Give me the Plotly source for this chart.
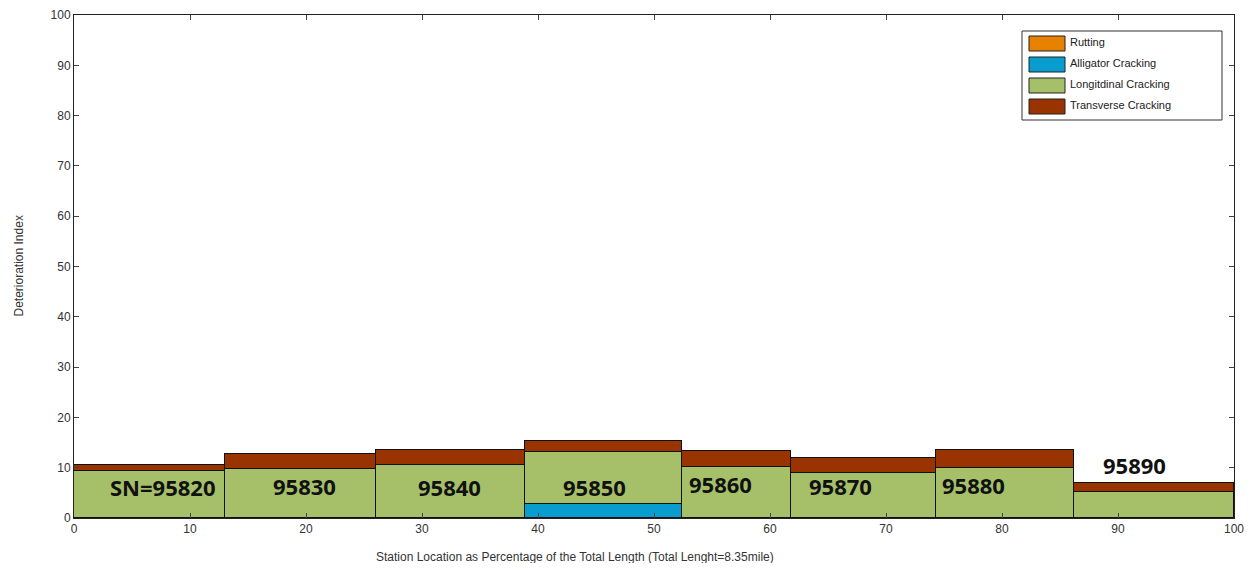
import plotly.graph_objects as go

# Station boundaries (percent of total length)
edges = [0, 13.0, 26.0, 38.9, 52.4, 61.8, 74.3, 86.2, 100]
stations = ["SN=95820", "95830", "95840", "95850", "95860", "95870", "95880", "95890"]
rutting = [0, 0, 0, 0, 0, 0, 0, 0]
alligator = [0, 0, 0, 2.7, 0, 0, 0, 0]
longitudinal = [9.3, 9.7, 10.6, 10.4, 10.2, 9.0, 9.9, 5.2]
transverse = [1.2, 3.1, 2.9, 2.2, 3.1, 3.0, 3.6, 1.7]
label_x = [7.6, 19.9, 32.4, 44.9, 55.7, 66.1, 77.5, 91.4]
label_y = [6.1, 6.4, 6.2, 6.2, 6.8, 6.4, 6.5, 10.5]

series_names = ["Rutting", "Alligator Cracking", "Longitdinal Cracking", "Transverse Cracking"]
series_colors = ["#E88000", "#089CCF", "#A6C06A", "#993300"]
series_values = [rutting, alligator, longitudinal, transverse]

# figure geometry (page has an 8px body margin)
W, H = 1238, 555
ML, MR, MT, MB = 66, 12, 7, 45
OFF = 8


def px(x):
    return (x - OFF - ML) / (W - ML - MR)


def py(y):
    return 1 - (y - OFF - MT) / (H - MT - MB)


mids = [(a + b) / 2 for a, b in zip(edges[:-1], edges[1:])]
widths = [b - a for a, b in zip(edges[:-1], edges[1:])]

fig = go.Figure()
for name, vals, col in zip(series_names, series_values, series_colors):
    fig.add_trace(go.Bar(
        x=mids, y=vals, width=widths, name=name, showlegend=False,
        marker=dict(color=col, line=dict(color="#111111", width=1)),
    ))

for s, lx, ly in zip(stations, label_x, label_y):
    fig.add_annotation(x=lx, y=ly, text="<b>%s</b>" % s, showarrow=False,
                       font=dict(family="Open Sans", size=22, color="#111111"))

fig.add_annotation(xref="paper", yref="paper", x=px(575), y=py(557),
                   text="Station Location as Percentage of the Total Length (Total Lenght=8.35mile)",
                   showarrow=False, xanchor="center", yanchor="middle",
                   font=dict(family="Liberation Sans, Arial", size=12, color="#333333"))
fig.add_annotation(xref="paper", yref="paper", x=px(18), y=0.5,
                   text="Deterioration Index", textangle=-90, showarrow=False,
                   xanchor="center", yanchor="middle",
                   font=dict(family="Liberation Sans, Arial", size=12, color="#333333"))

# custom legend (box, swatches, labels)
fig.add_shape(type="rect", xref="paper", yref="paper",
              x0=px(1022), x1=px(1222), y0=py(120), y1=py(31),
              line=dict(color="#333333", width=1), fillcolor="white", layer="above")
sw_top = [36, 57, 78, 99]
for name, col, top in zip(series_names, series_colors, sw_top):
    fig.add_shape(type="rect", xref="paper", yref="paper",
                  x0=px(1029), x1=px(1065), y0=py(top + 15), y1=py(top),
                  line=dict(color="#222222", width=1), fillcolor=col, layer="above")
    fig.add_annotation(xref="paper", yref="paper", x=px(1068), y=py(top + 6),
                       xanchor="left", yanchor="middle", showarrow=False, text=name,
                       font=dict(family="Liberation Sans, Arial", size=11, color="#222222"))

axis_common = dict(showgrid=False, zeroline=False, showline=True, linecolor="#222222",
                   linewidth=1, mirror="ticks", ticks="inside", ticklen=5,
                   tickcolor="#444444", automargin=False, ticklabeloverflow="allow",
                   tickfont=dict(family="Liberation Sans, Arial", size=12, color="#333333"))

fig.update_layout(
    width=W, height=H,
    barmode="stack", bargap=0,
    plot_bgcolor="white", paper_bgcolor="white",
    margin=dict(l=ML, r=MR, t=MT, b=MB),
    xaxis=dict(range=[0, 100], tickvals=list(range(0, 101, 10)), **axis_common),
    yaxis=dict(range=[0, 100], tickvals=list(range(0, 101, 10)), **axis_common),
    showlegend=False,
)

fig.write_html("out.html")
